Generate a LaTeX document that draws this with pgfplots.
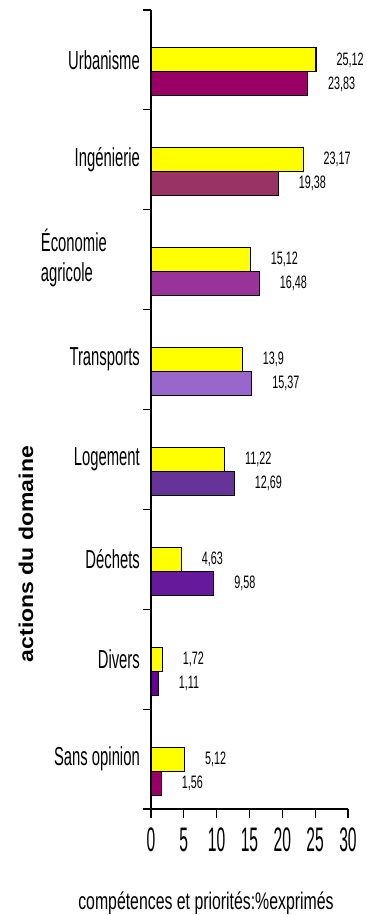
\documentclass[border=0pt]{standalone}
\usepackage{fontspec}
\usepackage{pgfplots}
\pgfplotsset{compat=1.18}
\setmainfont[FakeStretch=0.57]{Liberation Sans}
\newfontfamily\valfont[FakeStretch=0.6]{Liberation Sans}
\newfontfamily\tickfont[FakeStretch=0.46]{Liberation Sans}
\newfontfamily\xlabfont[FakeStretch=0.66]{Liberation Sans}
\newfontfamily\ylabfont[FakeStretch=1.15]{Liberation Sans}

\definecolor{jaune}{HTML}{FFFF00}
\definecolor{cUrb}{HTML}{990066}
\definecolor{cIng}{HTML}{993366}
\definecolor{cEco}{HTML}{993399}
\definecolor{cTra}{HTML}{9966CC}
\definecolor{cLog}{HTML}{663399}
\definecolor{cDec}{HTML}{66199A}
\definecolor{cDiv}{HTML}{660099}
\definecolor{cSan}{HTML}{990066}

% one purple bar: colour, value, category position
\newcommand\pbar[3]{\addplot[fill=#1, draw=black, line width=1.1bp, bar shift=-24bp] coordinates {(#2,#3)};}

\begin{document}
\begin{tikzpicture}
\begin{axis}[
  at={(0,0)}, anchor=south west,
  scale only axis, width=197bp, height=799bp,
  xbar, bar width=24bp,
  xmin=0, xmax=30, ymin=0.5, ymax=8.5,
  enlargelimits=false, clip=false,
  axis x line*=bottom, axis y line*=left,
  axis line style={line width=1.4bp, black},
  tick pos=left, tick align=outside,
  major tick length=9bp, minor tick length=8bp,
  tick style={line width=1.2bp, black},
  every major y tick/.append style={draw=none},
  xtick={0,5,...,30},
  ytick={1,...,8},
  minor ytick={0.5,1.5,...,8.5},
  yticklabels={Sans opinion, Divers, Déchets, Logement, Transports,
    {\begin{tabular}{@{}l@{\hspace{33bp}}}Économie\\agricole\end{tabular}},
    Ingénierie, Urbanisme},
  yticklabel style={font=\fontsize{26bp}{30bp}\selectfont, inner sep=0pt, xshift=-2bp},
  xticklabel style={font=\tickfont\fontsize{34bp}{34bp}\selectfont, inner sep=0pt, yshift=-10bp},
  /pgf/number format/.cd, use comma, 1000 sep={}, assume math mode=true,
  /pgfplots/.cd,
  nodes near coords,
  every node near coord/.append style={font=\valfont\fontsize{18bp}{18bp}\selectfont,
    anchor=west, inner sep=0pt, xshift=20bp, black},
  xlabel={compétences et priorités:\%exprimés},
  xlabel style={font=\xlabfont\fontsize{24bp}{24bp}\selectfont,
    at={(axis description cs:0.279,-0.1176)}, anchor=center},
  ylabel={actions du domaine},
  ylabel style={font=\ylabfont\bfseries\fontsize{20bp}{20bp}\selectfont,
    at={(axis description cs:-0.635,0.319)}, anchor=center, rotate=0},
]
% yellow bars, centred on each category
\addplot[fill=jaune, draw=black, line width=1.1bp, bar shift=0bp] coordinates {
  (25.12,8) (23.17,7) (15.12,6) (13.9,5) (11.22,4) (4.63,3) (1.72,2) (5.12,1)
};
% purple bars, just below, one shade per category
\pbar{cUrb}{23.83}{8}
\pbar{cIng}{19.38}{7}
\pbar{cEco}{16.48}{6}
\pbar{cTra}{15.37}{5}
\pbar{cLog}{12.69}{4}
\pbar{cDec}{9.58}{3}
\pbar{cDiv}{1.11}{2}
\pbar{cSan}{1.56}{1}
\end{axis}
\pgfresetboundingbox
\path[use as bounding box] (-151bp,-106bp) rectangle (216bp,809bp);
\end{tikzpicture}
\end{document}
